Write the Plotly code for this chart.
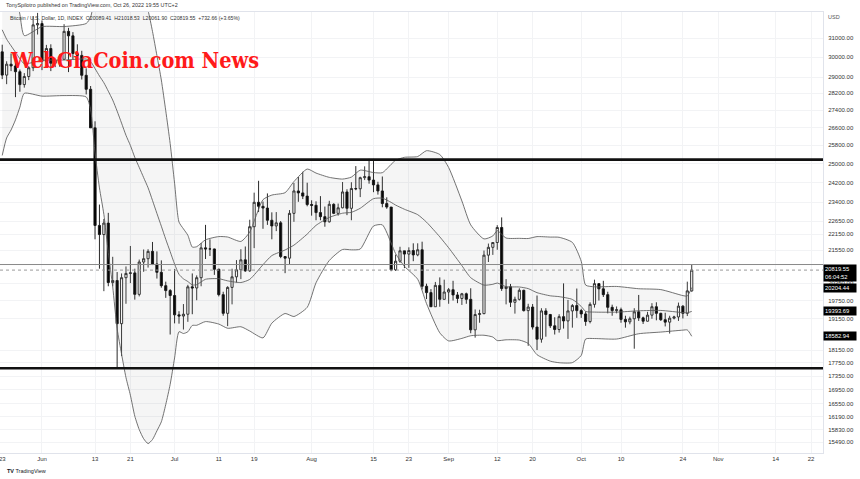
import math
import pandas as pd
import plotly.graph_objects as go

# ---------------- data ----------------
dates = pd.date_range("2022-05-23", "2022-10-26", freq="D")

opens = [30285, 29100, 29650, 29560, 29270, 28630, 29030, 29470, 31720,
         31790, 29800, 30460, 29700, 29860, 29900, 31370, 31130, 30200, 30100,
         29090, 28400, 26580, 22480, 22130, 22570, 20380, 20450, 18990, 20550,
         20700, 20720, 19970, 21110, 21230, 21500, 21040, 20740, 20270, 20100,
         19930, 19280, 19240, 19300, 20230, 20190, 20550, 21630, 21590, 21590,
         20850, 19960, 19330, 20210, 20580, 20830, 21190, 20790, 22430, 23390,
         23230, 23160, 22680, 22460, 22580, 21310, 21250, 22950, 23850, 23770, 23640,
         23300, 23270, 22980, 22820, 22620, 23310, 22950, 23170, 23810, 23150,
         23950, 23940, 24400, 24440, 24300, 24100, 23850, 23340, 23200, 20830,
         21140, 21520, 21400, 21530, 21370, 21560, 20250, 20030, 19550, 20280, 19800,
         20050, 20130, 19950, 19830, 19990, 19800, 18790, 19290, 19320, 21360,
         21650, 21830, 22400, 20170, 20230, 19700, 19800, 20110, 19420, 19540,
         18880, 18490, 19410, 19290, 18920, 18800, 19220, 19080, 19410, 19590,
         19420, 19310, 19060, 19630, 20340, 20160, 19960, 19530, 19420, 19450,
         19130, 19050, 19150, 19380, 19180, 19070, 19270, 19550, 19330, 19120,
         19040, 19170, 19210, 19570, 19330, 20089.41]
highs = [30660, 29800, 30200, 29850, 29380, 29200, 29550, 32200, 32380,
         31960, 30650, 30680, 29950, 30150, 31760, 31560, 31330, 30680, 30340,
         29440, 28560, 26880, 23300, 22730, 22970, 21300, 20750, 20700, 20950,
         21700, 20870, 21200, 21570, 21580, 21850, 21500, 21170, 20410, 20150,
         20860, 19400, 19640, 20300, 20700, 20630, 21810, 22500, 21950, 21600,
         20870, 20060, 20250, 20870, 21180, 21580, 21680, 22700, 23780, 24270,
         23420, 23750, 22990, 23000, 22650, 21330, 23080, 24180, 24430, 24650, 24190,
         23470, 23430, 23640, 23220, 23450, 23350, 23340, 24220, 23920, 24210,
         24890, 24440, 24880, 25200, 25200, 24230, 24450, 23590, 23200, 21380,
         21670, 21520, 21650, 21800, 21800, 21860, 20340, 20150, 20400, 20560, 20480,
         20190, 20440, 20050, 20020, 20030, 20180, 19460, 19450, 21530, 21790,
         21840, 22490, 22790, 20500, 20330, 19890, 20180, 20130, 19650, 19640,
         19930, 19500, 19500, 19310, 19200, 19300, 20350, 19780, 19640, 20170,
         19480, 19390, 19700, 20480, 20360, 20440, 20060, 19620, 19560, 19520,
         19250, 19220, 19500, 19950, 19220, 19380, 19670, 19700, 19350, 19350,
         19250, 19250, 19690, 19600, 20410, 21018.53]
lows = [28900, 28650, 29300, 28020, 28280, 28480, 28850, 29300, 31200,
        29350, 29590, 29300, 29500, 29520, 29870, 29250, 29880, 29970, 28880,
        28150, 26580, 21950, 20870, 20080, 20250, 20250, 17600, 17960, 19650,
        20360, 19790, 19900, 20760, 20910, 21000, 20520, 20200, 19850, 18640,
        19000, 18990, 18800, 19050, 19300, 19770, 20250, 21220, 21330, 20650,
        19900, 19250, 18910, 19630, 20380, 20500, 20760, 20760, 21620, 23000,
        22350, 22500, 21950, 22260, 21250, 20710, 21040, 22620, 23410, 23520, 23230,
        22860, 22680, 22680, 22430, 22590, 22920, 22860, 23150, 22880, 22680,
        23880, 23600, 24300, 24150, 23800, 23700, 23190, 23130, 20780, 20790,
        21080, 20890, 20900, 21140, 21320, 20140, 19810, 19550, 19550, 19550, 19800,
        19650, 19760, 19670, 19610, 19650, 18680, 18540, 19020, 19300, 21110,
        21370, 21560, 20090, 19630, 19540, 19320, 19760, 19390, 18280, 18800,
        18150, 18380, 18570, 18850, 18640, 18700, 18830, 18500, 18860, 19180,
        19180, 18920, 19000, 19520, 19760, 19880, 19330, 19250, 19330, 19020,
        18860, 18970, 18190, 19080, 18980, 19060, 19150, 19100, 19080, 18900,
        18670, 19130, 19080, 19160, 19240, 20061.90]
closes = [29100, 29650, 29560, 29270, 28630, 29030, 29470, 31720, 31790,
          29800, 30460, 29700, 29860, 29900, 31370, 31130, 30200, 30100, 29090,
          28400, 26580, 22480, 22130, 22570, 20380, 20450, 18990, 20550, 20700,
          20720, 19970, 21110, 21230, 21500, 21040, 20740, 20270, 20100, 19930,
          19280, 19240, 19300, 20230, 20190, 20550, 21630, 21590, 21590, 20850,
          19960, 19330, 20210, 20580, 20830, 21190, 20790, 22430, 23390, 23230,
          23160, 22680, 22460, 22580, 21310, 21250, 22950, 23850, 23770, 23640, 23300,
          23270, 22980, 22820, 22620, 23310, 22950, 23170, 23810, 23150, 23950,
          23940, 24400, 24440, 24300, 24100, 23850, 23340, 23200, 20830, 21140,
          21520, 21400, 21530, 21370, 21560, 20250, 20030, 19550, 20280, 19800, 20050,
          20130, 19950, 19830, 19990, 19800, 18790, 19290, 19320, 21360, 21650,
          21830, 22400, 20170, 20230, 19700, 19800, 20110, 19420, 19540, 18880,
          18490, 19410, 19290, 18920, 18800, 19220, 19080, 19410, 19590, 19420,
          19310, 19060, 19630, 20340, 20160, 19960, 19530, 19420, 19450, 19130,
          19050, 19150, 19380, 19180, 19070, 19270, 19550, 19330, 19120, 19040,
          19170, 19210, 19570, 19330, 20090, 20819.55]

# Bollinger band readings (upper / basis / lower)
band_dates = ["2022-05-23", "2022-05-24", "2022-05-25", "2022-05-26", "2022-05-27", "2022-05-28",
              "2022-06-01", "2022-06-06", "2022-06-11", "2022-06-12", "2022-06-13", "2022-06-14",
              "2022-06-15", "2022-06-16", "2022-06-17", "2022-06-18", "2022-06-19", "2022-06-20",
              "2022-06-21", "2022-06-22", "2022-06-23", "2022-06-24", "2022-06-25", "2022-06-26",
              "2022-06-27", "2022-06-28", "2022-06-29", "2022-06-30", "2022-07-01", "2022-07-02",
              "2022-07-03", "2022-07-04", "2022-07-05", "2022-07-06", "2022-07-08", "2022-07-11",
              "2022-07-13", "2022-07-16", "2022-07-18", "2022-07-21", "2022-07-23", "2022-07-26",
              "2022-07-28", "2022-07-31", "2022-08-02", "2022-08-05", "2022-08-08", "2022-08-10",
              "2022-08-12", "2022-08-15", "2022-08-17", "2022-08-19", "2022-08-20", "2022-08-22",
              "2022-08-25", "2022-08-27", "2022-08-30", "2022-09-01", "2022-09-04", "2022-09-06",
              "2022-09-09", "2022-09-11", "2022-09-12", "2022-09-14", "2022-09-17", "2022-09-19",
              "2022-09-21", "2022-09-24", "2022-09-26", "2022-09-29", "2022-10-01", "2022-10-02",
              "2022-10-04", "2022-10-09", "2022-10-14", "2022-10-19", "2022-10-24", "2022-10-25",
              "2022-10-26"]
band_upper = [37558, 35783, 34723, 33586, 32306, 31140,
              31624, 31630, 31796, 32146, 33393, 34138,
              34533, 35164, 35529, 35883, 35567, 35172,
              34782, 34328, 33836, 33221, 32508, 31368,
              30097, 28856, 27374, 25874, 24168, 22609,
              22348, 22103, 21660, 21673, 21930, 22053,
              22036, 21870, 22228, 23496, 23682, 23780,
              24237, 24765, 24594, 24414, 24342, 24425,
              24717, 24616, 24610, 24967, 25139, 25268,
              25302, 25558, 25390, 24832, 23444, 22500,
              21964, 22078, 22278, 21999, 21986, 21980,
              22052, 22034, 22026, 21833, 21138, 20291,
              20231, 20243, 20164, 20134, 19928, 19914,
              20204.44]
band_basis = [31454, 30953, 30603, 30266, 29924, 29672,
              29846, 29862, 29912, 29786, 29427, 29056,
              28721, 28308, 27879, 27355, 26797, 26242,
              25788, 25264, 24834, 24403, 23982, 23466,
              22947, 22450, 21950, 21492, 21036, 20669,
              20510, 20415, 20296, 20305, 20494, 20515,
              20438, 20380, 20490, 21014, 21344, 21552,
              21731, 22147, 22482, 22790, 22956, 22991,
              23151, 23536, 23556, 23387, 23279, 23112,
              22898, 22606, 22042, 21634, 20980, 20550,
              20290, 20318, 20362, 20235, 20224, 20168,
              20028, 19920, 19892, 19797, 19560, 19393,
              19371, 19369, 19414, 19426, 19354, 19350,
              19393.69]
band_lower = [25350, 26123, 26483, 26946, 27542, 28204,
              28068, 28094, 28028, 27426, 25461, 23974,
              22909, 21452, 20229, 18827, 18027, 17312,
              16794, 16200, 15832, 15585, 15456, 15564,
              15797, 16044, 16526, 17110, 17904, 18729,
              18672, 18727, 18932, 18937, 19058, 18977,
              18840, 18890, 18752, 18532, 19006, 19324,
              19225, 19529, 20370, 21166, 21570, 21557,
              21585, 22456, 22502, 21807, 21419, 20956,
              20494, 19654, 18694, 18436, 18516, 18600,
              18616, 18558, 18446, 18471, 18462, 18356,
              18004, 17806, 17758, 17761, 17982, 18495,
              18511, 18495, 18664, 18718, 18780, 18786,
              18582.94]

# horizontal levels drawn on the chart
thick_levels = [25170, 17590]
thin_level = 21020
last_price = 20819.55

# price axis ticks (the ones not hidden behind the price tags)
y_ticks = [31000, 30000, 29000, 28200, 27400, 26600, 25800, 25000, 24200, 23400,
           22650, 22150, 21550, 20350, 19750, 19150, 18150, 17750, 17350,
           16950, 16550, 16190, 15830, 15490]

# time axis ticks
x_tick_dates = ["2022-06-01", "2022-06-13", "2022-06-21", "2022-07-01",
                "2022-07-11", "2022-07-19", "2022-08-01", "2022-08-15", "2022-08-23",
                "2022-09-01", "2022-09-12", "2022-09-20", "2022-10-01", "2022-10-10",
                "2022-10-24", "2022-11-01", "2022-11-14", "2022-11-22"]
x_tick_text = ["Jun", "13", "21", "Jul", "11", "19", "Aug", "15", "23",
               "Sep", "12", "20", "Oct", "10", "24", "Nov", "14", "22"]
edge_tick_date, edge_tick_text = "2022-05-23", "23"

# price tags on the axis
tags = [(20819.55, "20819.55<br>06:04:52"), (20204.44, "20204.44"),
        (19393.69, "19393.69"), (18582.94, "18582.94")]

x_range = ["2022-05-22 12:00", "2022-11-24 16:48"]
y_range = [15208, 32430]

FONT = "Liberation Sans, Arial, sans-serif"

fig = go.Figure()

# Bollinger band fill + lines
band_line = dict(color="#5a5a5a", width=0.85, shape="spline", smoothing=0.6)
fig.add_trace(go.Scatter(x=band_dates, y=band_upper, mode="lines",
                         line=band_line, hoverinfo="skip"))
fig.add_trace(go.Scatter(x=band_dates, y=band_lower, mode="lines",
                         line=band_line, fill="tonexty", fillcolor="rgba(120,120,120,0.07)",
                         hoverinfo="skip"))
fig.add_trace(go.Scatter(x=band_dates, y=band_basis, mode="lines",
                         line=band_line, hoverinfo="skip"))

# horizontal levels
for lv in thick_levels:
    fig.add_trace(go.Scatter(x=x_range, y=[lv, lv], mode="lines",
                             line=dict(color="#111111", width=2.6), hoverinfo="skip"))
fig.add_trace(go.Scatter(x=x_range, y=[thin_level, thin_level], mode="lines",
                         line=dict(color="#8a8a8a", width=1), hoverinfo="skip"))
fig.add_trace(go.Scatter(x=x_range, y=[last_price, last_price], mode="lines",
                         line=dict(color="#9a9a9a", width=1, dash="dot"), hoverinfo="skip"))

# candles
fig.add_trace(go.Candlestick(
    x=dates, open=opens, high=highs, low=lows, close=closes,
    increasing=dict(line=dict(color="#222222", width=0.9), fillcolor="#ffffff"),
    decreasing=dict(line=dict(color="#111111", width=0.9), fillcolor="#000000"),
    whiskerwidth=0, hoverinfo="skip"))

fig.update_layout(
    width=860, height=479,
    margin=dict(l=0, r=37, t=12, b=26),
    paper_bgcolor="#ffffff", plot_bgcolor="#ffffff",
    showlegend=False,
    font=dict(family=FONT, size=6, color="#333333"),
)
fig.update_xaxes(
    type="date", range=x_range, rangeslider=dict(visible=False),
    tickvals=x_tick_dates, ticktext=x_tick_text, ticks="",
    tickfont=dict(family=FONT, size=6, color="#333333"),
    showgrid=True, gridcolor="#f2f3f5", gridwidth=1,
    showline=True, linecolor="#e0e3eb", linewidth=1, mirror=True,
    zeroline=False, fixedrange=True,
)
fig.update_yaxes(
    type="log", side="right",
    range=[math.log10(y_range[0]), math.log10(y_range[1])],
    tickvals=y_ticks, ticktext=[f"{v:.2f}" for v in y_ticks], ticks="",
    ticklabelstandoff=3,
    tickfont=dict(family=FONT, size=6, color="#333333"),
    showgrid=True, gridcolor="#f2f3f5", gridwidth=1,
    showline=True, linecolor="#e0e3eb", linewidth=1, mirror=True,
    zeroline=False, fixedrange=True,
)

ann = []
# header texts
ann.append(dict(xref="paper", yref="paper", x=0.0049, y=1.0159, xanchor="left", yanchor="middle",
                text="TonySpilotro published on TradingView.com, Oct 26, 2022 19:55 UTC+2",
                showarrow=False, font=dict(family=FONT, size=5.4, color="#333333")))
ann.append(dict(xref="paper", yref="paper", x=0.0097, y=0.9864, xanchor="left", yanchor="middle",
                text="Bitcoin / U.S. Dollar, 1D, INDEX  O20089.41  H21018.53  L20061.90  C20819.55  +732.66 (+3.65%)",
                showarrow=False, font=dict(family=FONT, size=5.2, color="#333333")))
ann.append(dict(xref="paper", yref="paper", x=1.0036, y=0.9887, xanchor="left", yanchor="middle",
                text="USD", showarrow=False, font=dict(family=FONT, size=5.5, color="#555555")))
# edge date label (cut by the left border, as in the original)
ann.append(dict(xref="x", yref="paper", x=edge_tick_date, y=-0.0136, xanchor="center", yanchor="middle",
                text=edge_tick_text, showarrow=False, font=dict(family=FONT, size=6, color="#333333")))
# watermark
ann.append(dict(xref="paper", yref="paper", x=0.0097, y=0.8889, xanchor="left", yanchor="middle",
                text="<b>WebGiaCoin.com News</b>", showarrow=False,
                font=dict(family="DejaVu Serif Condensed, DejaVu Serif, serif", size=21.5, color="#ff1a1a")))
# bottom logo
ann.append(dict(xref="paper", yref="paper", x=0.006, y=-0.0408, xanchor="left", yanchor="middle",
                text="<b>TV</b> TradingView", showarrow=False,
                font=dict(family=FONT, size=5.5, color="#131722")))
# price tags
for i, (val, txt) in enumerate(tags):
    ann.append(dict(xref="paper", yref="y", x=1.0, y=math.log10(val),
                    xanchor="left", yanchor="middle", yshift=(-3 if i == 0 else 0),
                    text=txt, showarrow=False, align="left", width=30, borderpad=1,
                    bgcolor="#000000", font=dict(family=FONT, size=5.8, color="#ffffff")))
fig.update_layout(annotations=ann)

fig.write_html("out.html")
